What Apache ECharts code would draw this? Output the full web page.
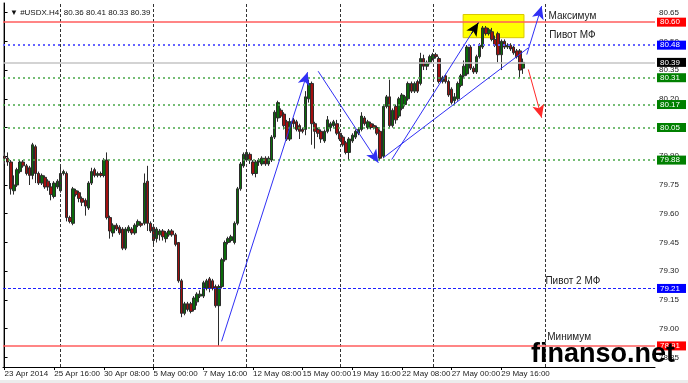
<!DOCTYPE html>
<html><head><meta charset="utf-8">
<script src="https://cdn.jsdelivr.net/npm/echarts@6/dist/echarts.min.js"></script>
<style>html,body{margin:0;padding:0;background:#fff}#c{width:688px;height:383px}</style>
</head><body><div id="c"></div>
<script>
// ---- candle data (H4 bars, #USDX) ----
const openP = [79.90,79.89,79.87,79.72,79.75,79.82,79.87,79.85,79.84,79.80,
79.95,79.81,79.76,79.79,79.77,79.74,79.69,79.74,79.72,79.81,
79.81,79.58,79.55,79.72,79.71,79.68,79.67,79.63,79.76,79.83,
79.80,79.81,79.80,79.88,79.58,79.50,79.54,79.53,79.52,79.42,
79.51,79.52,79.50,79.54,79.55,79.55,79.77,79.55,79.53,79.47,
79.49,79.51,79.47,79.49,79.51,79.49,79.45,79.25,79.08,79.13,
79.13,79.10,79.14,79.17,79.17,79.21,79.26,79.25,79.22,79.12,
79.22,79.36,79.45,79.46,79.45,79.55,79.73,79.85,79.88,79.91,
79.87,79.81,79.87,79.86,79.89,79.86,79.88,80.00,80.10,80.14,
80.12,80.08,79.99,80.09,80.08,80.06,80.04,80.04,80.20,80.28,
80.07,80.04,80.03,79.98,80.03,80.05,80.06,80.07,80.02,80.00,
79.97,79.92,79.98,80.00,80.02,80.04,80.10,80.05,80.07,80.06,
80.05,80.03,79.90,80.16,80.21,80.06,80.16,80.11,80.15,80.17,
80.20,80.28,80.24,80.29,80.28,80.41,80.37,80.39,80.41,80.43,
80.41,80.29,80.32,80.29,80.25,80.19,80.20,80.27,80.32,80.33,
80.47,80.36,80.34,80.42,80.47,80.57,80.54,80.55,80.51,80.54,
80.43,80.50,80.47,80.48,80.47,80.45,80.45,80.36];
const closeP = [79.89,79.87,79.73,79.75,79.83,79.87,79.85,79.81,79.80,79.96,
79.81,79.76,79.80,79.74,79.74,79.70,79.76,79.77,79.81,79.82,
79.58,79.56,79.73,79.70,79.68,79.66,79.64,79.76,79.82,79.80,
79.81,79.80,79.88,79.58,79.51,79.54,79.52,79.50,79.42,79.52,
79.53,79.50,79.54,79.56,79.54,79.76,79.55,79.51,79.46,79.52,
79.51,79.48,79.50,79.51,79.49,79.44,79.25,79.08,79.13,79.10,
79.09,79.16,79.18,79.18,79.24,79.25,79.21,79.21,79.12,79.22,
79.36,79.45,79.47,79.48,79.55,79.73,79.86,79.91,79.92,79.88,
79.81,79.87,79.88,79.89,79.86,79.89,80.00,80.13,80.18,80.11,
80.06,79.99,80.08,80.07,80.04,80.03,80.03,80.21,80.28,80.07,
80.03,80.02,79.99,80.03,80.09,80.07,80.08,80.02,79.99,79.96,
79.92,79.99,80.01,80.03,80.04,80.11,80.07,80.08,80.05,80.05,
80.02,79.89,80.16,80.21,80.06,80.14,80.09,80.20,80.22,80.21,
80.28,80.24,80.28,80.24,80.41,80.37,80.39,80.42,80.43,80.42,
80.29,80.31,80.29,80.22,80.18,80.21,80.28,80.32,80.37,80.47,
80.36,80.34,80.42,80.48,80.57,80.54,80.56,80.51,80.48,80.43,
80.50,80.47,80.48,80.46,80.44,80.42,80.35,80.39];
const lowP = [79.86,79.85,79.70,79.70,79.74,79.81,79.84,79.80,79.75,79.78,
79.76,79.75,79.75,79.73,79.72,79.67,79.68,79.73,79.71,79.80,
79.56,79.55,79.54,79.69,79.66,79.64,79.59,79.62,79.75,79.79,
79.79,79.79,79.79,79.57,79.47,79.48,79.51,79.49,79.41,79.41,
79.50,79.49,79.49,79.53,79.53,79.54,79.51,79.50,79.43,79.45,
79.46,79.46,79.45,79.48,79.48,79.43,79.24,79.06,79.07,79.09,
79.08,79.09,79.12,79.16,79.16,79.20,79.19,79.20,79.11,78.91,
79.21,79.35,79.44,79.45,79.44,79.54,79.72,79.84,79.87,79.86,
79.80,79.79,79.85,79.85,79.85,79.85,79.87,79.99,80.08,80.10,
80.04,79.98,79.98,80.05,80.03,79.99,80.02,80.01,80.18,79.96,
79.94,80.00,79.97,79.97,80.02,80.03,80.05,80.01,79.98,79.95,
79.91,79.88,79.97,79.99,80.01,80.03,80.06,80.04,80.04,80.04,
80.01,79.88,79.89,80.15,80.05,80.05,80.07,80.10,80.14,80.16,
80.19,80.23,80.23,80.23,80.27,80.35,80.35,80.38,80.40,80.41,
80.28,80.28,80.28,80.21,80.17,80.17,80.19,80.26,80.31,80.32,
80.35,80.33,80.33,80.41,80.46,80.53,80.53,80.50,80.47,80.39,
80.35,80.46,80.46,80.45,80.43,80.41,80.31,80.33];
const highP = [79.92,79.92,79.88,79.80,79.84,79.88,79.88,79.86,79.85,79.97,
79.96,79.82,79.81,79.80,79.78,79.76,79.77,79.78,79.85,79.83,
79.82,79.59,79.74,79.73,79.72,79.69,79.68,79.77,79.84,79.84,
79.82,79.82,79.89,79.92,79.59,79.55,79.55,79.54,79.53,79.53,
79.54,79.53,79.55,79.57,79.56,79.81,79.85,79.56,79.54,79.53,
79.52,79.52,79.51,79.52,79.52,79.50,79.45,79.26,79.14,79.14,
79.14,79.17,79.19,79.20,79.25,79.26,79.27,79.26,79.23,79.23,
79.37,79.46,79.48,79.49,79.56,79.74,79.87,79.92,79.93,79.92,
79.88,79.88,79.89,79.90,79.90,79.90,80.01,80.14,80.19,80.15,
80.13,80.09,80.10,80.10,80.09,80.07,80.05,80.24,80.30,80.29,
80.08,80.05,80.04,80.04,80.11,80.08,80.09,80.09,80.03,80.01,
79.98,80.00,80.02,80.04,80.05,80.13,80.11,80.09,80.08,80.07,
80.06,80.04,80.17,80.22,80.30,80.15,80.17,80.21,80.23,80.22,
80.29,80.29,80.29,80.30,80.44,80.43,80.40,80.43,80.44,80.44,
80.42,80.32,80.33,80.30,80.26,80.23,80.29,80.33,80.40,80.48,
80.48,80.37,80.43,80.49,80.58,80.58,80.57,80.57,80.53,80.55,
80.51,80.51,80.49,80.49,80.48,80.46,80.46,80.41];

// ---- axes ----
const barSlots = 210; // bars incl. empty right shift
const xTickLabels = ['23 Apr 2014','25 Apr 16:00','30 Apr 08:00','5 May 00:00','7 May 16:00','12 May 08:00','15 May 00:00','19 May 16:00','22 May 08:00','27 May 00:00','29 May 16:00'];
const xTickEvery = 16;
const yTickLabels = [78.85,79.00,79.15,79.30,79.45,79.60,79.75,79.90,80.05,80.20,80.35,80.50,80.65];
const weekGridIdx = [18,48,78,108,138,174];

// ---- horizontal levels ----
const levelPrices = [80.60,80.48,80.39,80.31,80.17,80.05,79.88,79.21,78.91];
const levelKinds  = ['max','pivot','bid','sup','sup','sup','sup','pivot2','min'];

// ---- text annotations ----
const annoText  = ['Максимум','Пивот МФ','Пивот 2 МФ','Минимум'];
const annoIdx   = [175.2,175.4,174.2,174.8];
const annoPrice = [80.632,80.530,79.245,78.953];

// ---- drawn trend lines / arrows: [barIndex, price] ----
const trendFrom  = [[69.9,78.934],[101.0,80.344],[124.7,79.883],[122.0,79.892],[168.2,80.431],[168.7,80.353],[150.4,80.540]];
const trendTo    = [[97.6,80.339],[120.4,79.866],[152.6,80.597],[168.7,80.466],[173.0,80.684],[173.0,80.101],[152.6,80.597]];
const trendColor = ['blue','blue','blue','blue','blue','red','black'];
const trendArrow = [true,true,false,false,true,true,true];
const boxFrom = [147.7,80.640];
const boxTo   = [167.3,80.519];

const FONT = 'Liberation Sans';
const palette = {blue:'#3030f5', red:'#ff2a2a', black:'#000'};
const levelStyle = {
  max:   {line:{color:'#ff5c5c',width:1.6,type:'solid'}, bg:'#ff0000'},
  min:   {line:{color:'#ff5c5c',width:1.6,type:'solid'}, bg:'#ff0000'},
  pivot: {line:{color:'#6565ff',width:2,type:[2,3]}, bg:'#0000ff'},
  pivot2:{line:{color:'#2020ff',width:1,type:[3,2]}, bg:'#0000ff'},
  bid:   {line:{color:'#c4c4c4',width:1.6,type:'solid'}, bg:'#000000'},
  sup:   {line:{color:'#4aa84a',width:1.6,type:[2,3]}, bg:'#008000'}
};

const categories = Array.from({length: barSlots}, (_, i) => i);
const candles = openP.map((o, i) => [o, closeP[i], lowP[i], highP[i]]);
const tickShown = i => i % xTickEvery === 0 && i / xTickEvery < xTickLabels.length;

const levelLines = levelPrices.map((p, k) => {
  const st = levelStyle[levelKinds[k]];
  return {
    yAxis: p,
    lineStyle: st.line,
    label: {
      show: true, position: 'end', distance: 2,
      formatter: () => p.toFixed(2),
      backgroundColor: st.bg, color: '#fff',
      fontFamily: FONT, fontSize: 8, lineHeight: 8,
      padding: [1, 2, 0, 3], width: 24
    }
  };
});
const gridLines = weekGridIdx.map(i => ({xAxis: i, lineStyle: {color: '#333', width: 1, type: [3, 2]}, label: {show: false}}));

const trendLines = trendFrom.map((f, k) => [
  {coord: f, symbol: 'none'},
  {coord: trendTo[k], symbol: trendArrow[k] ? 'arrow' : 'none', symbolSize: [9, 13],
   lineStyle: {color: palette[trendColor[k]], width: 1, type: 'solid'},
   itemStyle: {color: palette[trendColor[k]]}}
]);

const annoPoints = annoText.map((t, k) => ({
  name: t, coord: [annoIdx[k], annoPrice[k]], symbolSize: 0,
  label: {show: true, position: 'right', distance: 0, formatter: t,
          color: '#222', fontFamily: FONT, fontSize: 10}
}));

const last = openP.length - 1;
const header = '\u25BC #USDX.H4  ' + [openP[last], highP[last], lowP[last], closeP[last]].map(v => v.toFixed(2)).join(' ');

const chart = echarts.init(document.getElementById('c'), null, {renderer: 'canvas'});
chart.setOption({
  animation: false,
  backgroundColor: '#fff',
  textStyle: {fontFamily: FONT},
  title: {text: header, left: 5, top: 4, textStyle: {fontSize: 8, fontWeight: 'normal', color: '#111', fontFamily: FONT}},
  graphic: [
    {type: 'rect', left: 0, bottom: 0, z: 0, shape: {width: 688, height: 3}, style: {fill: '#ececec'}},
    {type: 'text', left: 531, top: 341, z: 100,
     style: {text: 'finanso.net', font: 'bold 27px "Liberation Sans"', fill: '#000'}}
  ],
  grid: {left: 3, right: 33, top: 3, bottom: 16, containLabel: false},
  xAxis: [{
    type: 'category', data: categories, boundaryGap: true,
    axisLine: {show: true, lineStyle: {color: '#000', width: 1}},
    axisTick: {show: true, alignWithLabel: true, interval: tickShown, length: 3, lineStyle: {color: '#000'}},
    axisLabel: {show: true, interval: tickShown, align: 'left', margin: 3,
      formatter: (v, i) => xTickLabels[i / xTickEvery] || '', fontSize: 8, color: '#222', fontFamily: FONT},
    splitLine: {show: false}
  }, {
    type: 'value', min: -0.5, max: barSlots - 0.5, show: false
  }],
  yAxis: [{
    type: 'value', position: 'right', min: 78.80, max: 80.70, scale: true,
    axisLine: {show: true, lineStyle: {color: '#000', width: 1}},
    axisTick: {show: true, customValues: yTickLabels, length: 3, lineStyle: {color: '#000'}},
    axisLabel: {show: true, customValues: yTickLabels, formatter: v => v.toFixed(2), margin: 4,
      fontSize: 8, color: '#222', fontFamily: FONT},
    splitLine: {show: false}
  }, {
    type: 'value', position: 'left', min: 78.80, max: 80.70,
    axisLine: {show: true, lineStyle: {color: '#999', width: 1}},
    axisTick: {show: false}, axisLabel: {show: false}, splitLine: {show: false}
  }],
  series: [{
    name: 'bg', type: 'line', xAxisIndex: 1, yAxisIndex: 0, data: [], z: 1, silent: true,
    markLine: {silent: true, symbol: 'none', animation: false, data: gridLines.concat(levelLines)},
    markArea: {silent: true, data: [[{coord: boxFrom}, {coord: boxTo}]],
      itemStyle: {color: '#ffff00', borderColor: '#d8c800', borderWidth: 1}}
  }, {
    name: 'USDX', type: 'candlestick', xAxisIndex: 0, yAxisIndex: 0, data: candles, z: 2,
    barWidth: 3,
    itemStyle: {color: '#0a6a0a', color0: '#a00f0f', borderColor: '#2b2b2b', borderColor0: '#2b2b2b', borderWidth: 1}
  }, {
    name: 'fg', type: 'line', xAxisIndex: 1, yAxisIndex: 0, data: [], z: 3, silent: true,
    markLine: {silent: true, animation: false, label: {show: false}, data: trendLines},
    markPoint: {silent: true, data: annoPoints}
  }]
});
</script></body></html>
